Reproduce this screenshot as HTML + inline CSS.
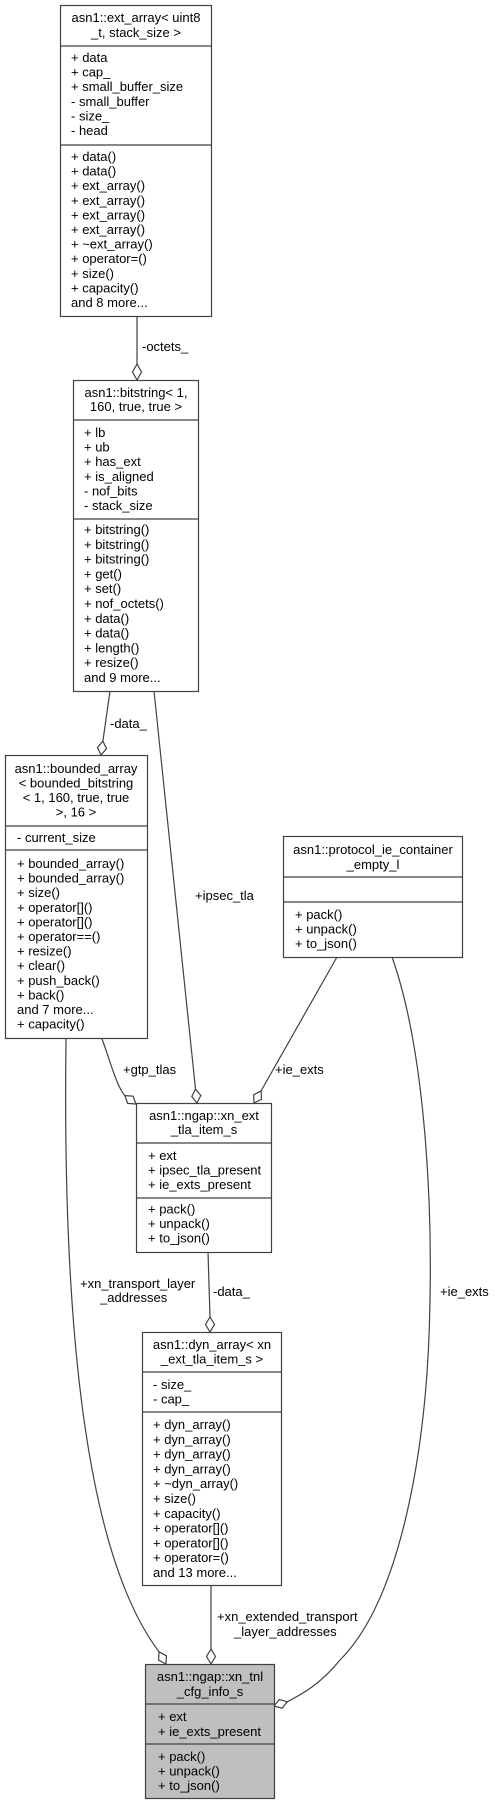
<!DOCTYPE html>
<html><head><meta charset="utf-8"><style>
html,body{margin:0;padding:0;background:#fff;}
svg{display:block;}
text{font-family:"Liberation Sans",sans-serif;font-size:13px;fill:#000;}
.b{fill:#fff;stroke:#404040;stroke-width:1.2;}
.l{fill:none;stroke:#404040;stroke-width:1.2;}
.d{fill:#fff;stroke:#404040;stroke-width:1.2;}
</style></head><body>
<svg width="495" height="1800" viewBox="0 0 495 1800" xmlns="http://www.w3.org/2000/svg">
<!-- edges -->
<path class="l" d="M137,316 L137,364"/>
<polygon class="d" points="137,380 132.5,372 137,364 141.5,372"/>
<text x="142" y="351">-octets_</text>

<path class="l" d="M110,691 L102.9,741"/>
<polygon class="d" points="101,755 97.5,747.5 102.9,741.1 106.5,748.7"/>
<text x="110" y="728">-data_</text>

<path class="l" d="M154,691 L195.5,1089"/>
<polygon class="d" points="197,1103 191.8,1096.5 195.5,1089.1 200.8,1095.5"/>
<text x="195" y="900">+ipsec_tla</text>

<path class="l" d="M102,1039 C110,1060 116,1085 124.8,1095.6"/>
<polygon class="d" points="136,1104 127.7,1103.4 124.8,1095.6 133.1,1096.2"/>
<text x="123" y="1074">+gtp_tlas</text>

<path class="l" d="M337,957 L261,1091"/>
<polygon class="d" points="254,1103 253.7,1094.7 261.1,1091 261.5,1099.3"/>
<text x="275" y="1074">+ie_exts</text>

<path class="l" d="M208,1252 L210,1317"/>
<polygon class="d" points="210,1332 205.5,1324.5 210,1317 214.5,1324.5"/>
<text x="213" y="1296">-data_</text>

<path class="l" d="M211,1585 L211,1649"/>
<polygon class="d" points="211,1664 206.5,1656.5 211,1649 215.5,1656.5"/>
<text x="217" y="1621">+xn_extended_transport</text>
<text x="234" y="1636">_layer_addresses</text>

<path class="l" d="M66,1039 C62,1350 90,1560 159,1651.8"/>
<polygon class="d" points="166,1664 158.6,1660.2 159,1651.8 166.4,1655.7"/>
<text x="80" y="1288">+xn_transport_layer</text>
<text x="100" y="1302">_addresses</text>

<path class="l" d="M392,957 C425,1050 432,1200 430,1300 C428,1450 400,1600 340,1660 C320,1685 300,1695 287.3,1701.8"/>
<polygon class="d" points="274,1706 279.3,1699.6 287.3,1701.8 282.1,1708.2"/>
<text x="440" y="1296">+ie_exts</text>

<!-- ext_array -->
<rect class="b" x="60.5" y="5.5" width="151" height="311"/>
<line class="l" x1="60.5" y1="46" x2="211.5" y2="46"/>
<line class="l" x1="60.5" y1="145" x2="211.5" y2="145"/>
<text x="136" y="22" text-anchor="middle">asn1::ext_array&lt; uint8</text>
<text x="136" y="37" text-anchor="middle">_t, stack_size &gt;</text>
<text x="71" y="62">+ data</text>
<text x="71" y="76.5">+ cap_</text>
<text x="71" y="91">+ small_buffer_size</text>
<text x="71" y="106">- small_buffer</text>
<text x="71" y="120.5">- size_</text>
<text x="71" y="135">- head</text>
<text x="71" y="161">+ data()</text>
<text x="71" y="175.6">+ data()</text>
<text x="71" y="190.2">+ ext_array()</text>
<text x="71" y="204.8">+ ext_array()</text>
<text x="71" y="219.4">+ ext_array()</text>
<text x="71" y="234">+ ext_array()</text>
<text x="71" y="248.6">+ ~ext_array()</text>
<text x="71" y="263.2">+ operator=()</text>
<text x="71" y="277.8">+ size()</text>
<text x="71" y="292.4">+ capacity()</text>
<text x="71" y="307">and 8 more...</text>

<!-- bitstring -->
<rect class="b" x="73.5" y="380.5" width="125" height="311"/>
<line class="l" x1="73.5" y1="420" x2="198.5" y2="420"/>
<line class="l" x1="73.5" y1="519" x2="198.5" y2="519"/>
<text x="136" y="397" text-anchor="middle">asn1::bitstring&lt; 1,</text>
<text x="136" y="411" text-anchor="middle">160, true, true &gt;</text>
<text x="84" y="437">+ lb</text>
<text x="84" y="451.6">+ ub</text>
<text x="84" y="466.2">+ has_ext</text>
<text x="84" y="480.8">+ is_aligned</text>
<text x="84" y="495.4">- nof_bits</text>
<text x="84" y="510">- stack_size</text>
<text x="84" y="534">+ bitstring()</text>
<text x="84" y="548.8">+ bitstring()</text>
<text x="84" y="563.6">+ bitstring()</text>
<text x="84" y="578.4">+ get()</text>
<text x="84" y="593.2">+ set()</text>
<text x="84" y="608">+ nof_octets()</text>
<text x="84" y="622.8">+ data()</text>
<text x="84" y="637.6">+ data()</text>
<text x="84" y="652.4">+ length()</text>
<text x="84" y="667.2">+ resize()</text>
<text x="84" y="682">and 9 more...</text>

<!-- bounded_array -->
<rect class="b" x="5.5" y="755.5" width="142" height="283"/>
<line class="l" x1="5.5" y1="826" x2="147.5" y2="826"/>
<line class="l" x1="5.5" y1="850" x2="147.5" y2="850"/>
<text x="76" y="773" text-anchor="middle">asn1::bounded_array</text>
<text x="76" y="787.5" text-anchor="middle">&lt; bounded_bitstring</text>
<text x="76" y="802" text-anchor="middle">&lt; 1, 160, true, true</text>
<text x="76" y="816.5" text-anchor="middle">&gt;, 16 &gt;</text>
<text x="17" y="842">- current_size</text>
<text x="17" y="868">+ bounded_array()</text>
<text x="17" y="882.6">+ bounded_array()</text>
<text x="17" y="897.2">+ size()</text>
<text x="17" y="911.8">+ operator[]()</text>
<text x="17" y="926.4">+ operator[]()</text>
<text x="17" y="941">+ operator==()</text>
<text x="17" y="955.6">+ resize()</text>
<text x="17" y="970.2">+ clear()</text>
<text x="17" y="984.8">+ push_back()</text>
<text x="17" y="999.4">+ back()</text>
<text x="17" y="1014">and 7 more...</text>
<text x="17" y="1028.6">+ capacity()</text>

<!-- protocol_ie -->
<rect class="b" x="283.5" y="836.5" width="179" height="121"/>
<line class="l" x1="283.5" y1="877" x2="462.5" y2="877"/>
<line class="l" x1="283.5" y1="902" x2="462.5" y2="902"/>
<text x="373" y="854" text-anchor="middle">asn1::protocol_ie_container</text>
<text x="373" y="869" text-anchor="middle">_empty_l</text>
<text x="295" y="919">+ pack()</text>
<text x="295" y="933.5">+ unpack()</text>
<text x="295" y="948">+ to_json()</text>

<!-- xn_ext_tla -->
<rect class="b" x="136.5" y="1103.5" width="135" height="149"/>
<line class="l" x1="136.5" y1="1143" x2="271.5" y2="1143"/>
<line class="l" x1="136.5" y1="1198" x2="271.5" y2="1198"/>
<text x="204" y="1120" text-anchor="middle">asn1::ngap::xn_ext</text>
<text x="204" y="1134" text-anchor="middle">_tla_item_s</text>
<text x="148" y="1160">+ ext</text>
<text x="148" y="1174.5">+ ipsec_tla_present</text>
<text x="148" y="1189">+ ie_exts_present</text>
<text x="148" y="1213.5">+ pack()</text>
<text x="148" y="1228">+ unpack()</text>
<text x="148" y="1242.5">+ to_json()</text>

<!-- dyn_array -->
<rect class="b" x="142.5" y="1332.5" width="139" height="253"/>
<line class="l" x1="142.5" y1="1372" x2="281.5" y2="1372"/>
<line class="l" x1="142.5" y1="1412" x2="281.5" y2="1412"/>
<text x="212" y="1349" text-anchor="middle">asn1::dyn_array&lt; xn</text>
<text x="212" y="1363.5" text-anchor="middle">_ext_tla_item_s &gt;</text>
<text x="153" y="1389">- size_</text>
<text x="153" y="1403.5">- cap_</text>
<text x="153" y="1429">+ dyn_array()</text>
<text x="153" y="1443.8">+ dyn_array()</text>
<text x="153" y="1458.6">+ dyn_array()</text>
<text x="153" y="1473.4">+ dyn_array()</text>
<text x="153" y="1488.2">+ ~dyn_array()</text>
<text x="153" y="1503">+ size()</text>
<text x="153" y="1517.8">+ capacity()</text>
<text x="153" y="1532.6">+ operator[]()</text>
<text x="153" y="1547.4">+ operator[]()</text>
<text x="153" y="1562.2">+ operator=()</text>
<text x="153" y="1577">and 13 more...</text>

<!-- xn_tnl -->
<rect x="145.5" y="1664.5" width="129" height="134" fill="#bfbfbf" stroke="#404040" stroke-width="1.2"/>
<line class="l" x1="145.5" y1="1704" x2="274.5" y2="1704"/>
<line class="l" x1="145.5" y1="1744" x2="274.5" y2="1744"/>
<text x="210" y="1681" text-anchor="middle">asn1::ngap::xn_tnl</text>
<text x="210" y="1696" text-anchor="middle">_cfg_info_s</text>
<text x="158" y="1721">+ ext</text>
<text x="158" y="1736">+ ie_exts_present</text>
<text x="158" y="1761">+ pack()</text>
<text x="158" y="1775.5">+ unpack()</text>
<text x="158" y="1790">+ to_json()</text>
</svg>
</body></html>
